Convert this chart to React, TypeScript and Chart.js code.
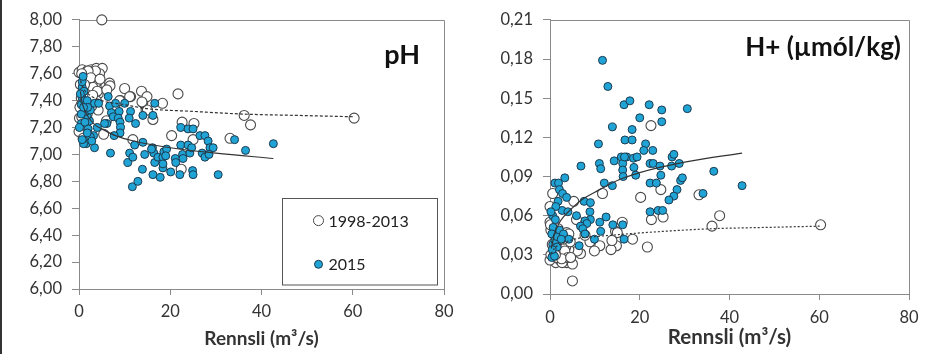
import React, { useEffect, useRef } from 'react';
import { Chart, registerables } from 'chart.js';

Chart.register(...registerables);

// ---------- axis ticks & labels ----------
const flowTicks = [0, 20, 40, 60, 80];
const phTicks = [6.0, 6.2, 6.4, 6.6, 6.8, 7.0, 7.2, 7.4, 7.6, 7.8, 8.0];
const hTicks = [0, 0.03, 0.06, 0.09, 0.12, 0.15, 0.18, 0.21];
const xTitle = 'Rennsli (m³/s)';
const legendLabels = ['1998-2013', '2015'];
const phTitle = 'pH';
const hTitle = 'H+ (µmól/kg)';

// ---------- pH panel: 1998-2013 ----------
const flowOldPh = [5.0, 0.0, 0.7, 1.8, 2.7, 3.8, 5.1, 1.2, 2.3, 3.9, 3.4, 4.2, 3.8, 4.2, 2.5, 1.5, 0.5, 0.1, 0.0, 0.5, 0.9, 1.8, 3.3, 2.2, 5.9, 6.7, 5.4, 6.0, 10.0, 11.3, 13.7, 14.0, 14.9, 14.7, 16.2, 18.3, 21.7, 9.1, 7.8, 11.8, 22.6, 25.2, 20.3, 25.0, 22.4, 33.1, 36.2, 37.6, 60.3, 0.3, 1.0, 2.0, 3.0, 4.5, 1.5, 0.2, 2.8, 3.6, 4.0, 0.6, 2.0, 3.0, 15.0, 6.8, 6.1, 13.8, 11.1, 8.9, 0.6, 2.6, 1.2, 4.6];
const phOld = [8.00, 7.61, 7.63, 7.62, 7.63, 7.64, 7.64, 7.58, 7.54, 7.54, 7.48, 7.45, 7.40, 7.33, 7.42, 7.48, 7.42, 7.27, 7.17, 7.37, 7.12, 7.30, 7.58, 7.59, 7.51, 7.53, 7.15, 7.25, 7.49, 7.43, 7.47, 7.39, 7.43, 7.33, 7.26, 7.38, 7.45, 7.40, 7.35, 7.11, 7.24, 7.23, 7.14, 7.11, 6.89, 7.12, 7.29, 7.22, 7.27, 7.52, 7.50, 7.45, 7.50, 7.60, 7.55, 7.35, 7.36, 7.62, 7.47, 7.28, 7.62, 7.44, 7.33, 7.51, 7.48, 7.39, 7.43, 7.40, 7.60, 7.57, 7.52, 7.56];

// ---------- pH panel: 2015 ----------
const flow2015Ph = [6.4, 6.7, 8.0, 10.0, 11.3, 16.6, 14.0, 16.2, 7.1, 7.5, 8.8, 8.6, 9.0, 9.1, 9.0, 7.7, 6.1, 5.6, 12.4, 11.0, 6.9, 4.0, 3.4, 3.2, 2.5, 2.0, 1.6, 1.0, 0.7, 2.3, 1.8, 1.5, 2.5, 3.4, 4.3, 0.5, 0.5, 0.5, 0.7, 0.7, 0.7, 0.9, 1.1, 1.2, 1.8, 1.8, 1.9, 12.2, 14.0, 11.1, 10.7, 14.4, 13.9, 16.1, 16.4, 16.6, 16.2, 17.3, 17.8, 18.4, 18.4, 18.6, 19.2, 20.1, 21.1, 21.2, 22.1, 22.3, 22.3, 22.7, 22.8, 23.9, 25.0, 23.9, 24.3, 24.7, 24.9, 25.0, 26.5, 27.6, 27.0, 27.6, 28.3, 28.7, 29.4, 28.5, 30.5, 34.1, 36.5, 42.6, 11.7, 12.9, 0.1, 1.3, 2.8, 0.3, 1.0, 19.0, 15.9, 18.4, 11.8];
const ph2015 = [7.43, 7.36, 7.38, 7.38, 7.32, 7.38, 7.29, 7.29, 7.31, 7.28, 7.32, 7.27, 7.24, 7.20, 7.16, 7.14, 7.23, 7.23, 7.23, 7.27, 7.01, 7.20, 7.05, 7.14, 7.13, 7.19, 7.08, 7.08, 7.11, 7.25, 7.29, 7.32, 7.33, 7.38, 7.38, 7.23, 7.30, 7.37, 7.42, 7.50, 7.54, 7.58, 7.47, 7.40, 7.40, 7.16, 7.35, 7.07, 7.09, 7.01, 6.94, 7.00, 6.89, 7.05, 7.01, 6.94, 6.85, 6.98, 6.83, 6.98, 6.90, 7.02, 7.04, 6.87, 6.97, 6.94, 6.85, 7.20, 7.07, 7.00, 6.97, 7.19, 7.19, 7.07, 7.01, 7.05, 6.88, 6.85, 7.14, 7.14, 7.01, 6.98, 7.10, 7.05, 7.05, 7.00, 6.85, 7.11, 7.03, 7.08, 6.76, 6.80, 7.20, 7.24, 7.10, 7.45, 7.35, 6.99, 7.04, 6.93, 6.98];

// ---------- pH trend lines ----------
const trendOldPhX = [0.3, 1, 2, 5, 10, 15, 25, 36, 48, 60.3];
const trendOldPhY = [7.55, 7.49, 7.45, 7.40, 7.37, 7.34, 7.32, 7.30, 7.29, 7.28];
const trend2015PhX = [0.3, 0.6, 1, 2, 3.5, 5, 8, 12, 20, 30, 42.6];
const trend2015PhY = [7.47, 7.40, 7.35, 7.28, 7.22, 7.19, 7.14, 7.10, 7.05, 7.01, 6.97];

// ---------- H+ panel: 1998-2013 ----------
const flowOldH = [22.5, 11.7, 20.2, 24.7, 33.2, 22.6, 25.2, 37.8, 36.1, 60.3, 16.1, 14.6, 15.0, 18.4, 21.7, 14.8, 13.6, 13.8, 11.1, 9.9, 8.9, 7.8, 6.8, 6.1, 5.0, 5.3, 5.9, 0.6, 0.0, 0.0, 0.2, 1.3, 2.4, 3.7, 5.0, 3.5, 4.2, 3.5, 3.7, 0.0, 1.8, 4.5, 3.0, 0.1, 1.8, 4.2, 0.5, 2.2, 2.7, 3.3, 4.0, 1.0, 2.8, 0.2, 1.5, 2.6, 1.2, 4.6];
const hOld = [0.129, 0.077, 0.074, 0.080, 0.076, 0.057, 0.059, 0.060, 0.052, 0.053, 0.055, 0.048, 0.047, 0.042, 0.036, 0.037, 0.034, 0.041, 0.037, 0.033, 0.040, 0.045, 0.031, 0.033, 0.010, 0.071, 0.057, 0.077, 0.067, 0.055, 0.049, 0.024, 0.027, 0.024, 0.023, 0.029, 0.034, 0.036, 0.047, 0.026, 0.031, 0.040, 0.042, 0.053, 0.050, 0.046, 0.038, 0.026, 0.024, 0.033, 0.028, 0.032, 0.044, 0.030, 0.028, 0.027, 0.030, 0.028];

// ---------- H+ panel: 2015 ----------
const flow2015H = [11.7, 12.9, 16.5, 17.8, 22.1, 24.9, 30.6, 20.0, 24.9, 18.3, 13.9, 10.8, 16.7, 18.3, 21.3, 20.9, 22.9, 11.0, 11.3, 14.3, 15.9, 17.1, 16.2, 18.6, 18.7, 19.1, 22.3, 23.0, 24.5, 24.7, 27.2, 27.6, 28.8, 27.1, 29.1, 29.5, 28.3, 27.6, 26.5, 16.2, 16.3, 6.9, 12.1, 13.9, 22.3, 23.7, 36.5, 42.8, 34.1, 22.3, 24.1, 25.1, 3.3, 1.1, 1.9, 2.1, 2.8, 3.7, 2.7, 4.0, 1.8, 1.3, 0.6, 0.7, 7.6, 9.0, 8.9, 9.0, 7.8, 8.2, 6.8, 7.3, 7.8, 5.9, 11.1, 12.5, 11.3, 9.9, 14.0, 16.2, 16.5, 6.5, 0.4, 0.6, 0.7, 1.1, 1.6, 2.1, 3.0, 4.2, 1.6, 0.4, 1.0, 0.5, 2.5, 1.2, 0.2, 16.6, 19.4];
const h2015 = [0.179, 0.159, 0.145, 0.148, 0.145, 0.141, 0.142, 0.135, 0.132, 0.126, 0.128, 0.115, 0.118, 0.118, 0.115, 0.110, 0.110, 0.100, 0.096, 0.102, 0.105, 0.105, 0.100, 0.104, 0.097, 0.091, 0.100, 0.100, 0.098, 0.091, 0.105, 0.107, 0.100, 0.098, 0.087, 0.089, 0.080, 0.075, 0.072, 0.095, 0.090, 0.098, 0.085, 0.083, 0.085, 0.085, 0.094, 0.083, 0.077, 0.063, 0.064, 0.064, 0.089, 0.085, 0.085, 0.080, 0.077, 0.074, 0.064, 0.063, 0.071, 0.067, 0.060, 0.051, 0.071, 0.070, 0.063, 0.057, 0.056, 0.054, 0.052, 0.050, 0.046, 0.060, 0.055, 0.059, 0.048, 0.042, 0.053, 0.053, 0.042, 0.037, 0.046, 0.038, 0.030, 0.041, 0.044, 0.049, 0.046, 0.042, 0.036, 0.028, 0.029, 0.034, 0.042, 0.057, 0.063, 0.105, 0.105];

// ---------- H+ trend lines ----------
const trendOldHX = [0.3, 1, 3, 6.7, 10, 21, 36, 48, 60.3];
const trendOldHY = [0.031, 0.035, 0.039, 0.043, 0.044, 0.047, 0.050, 0.051, 0.052];
const trend2015HX = [0.3, 1, 2, 3, 5, 7, 10, 15, 20, 30, 42.8];
const trend2015HY = [0.035, 0.046, 0.054, 0.059, 0.066, 0.072, 0.078, 0.087, 0.093, 0.101, 0.108];

const AXIS = '#8a8a8a';
const TEXT = '#333333';
const FONT = 'Lato, "Open Sans", sans-serif';
const BLUE_FILL = '#20a3d5';
const BLUE_EDGE = '#1c3a4e';
const OPEN_EDGE = '#4a4a4a';

const zip = (xs: number[], ys: number[]) => xs.map((x, i) => ({ x, y: ys[i] }));

type PanelOpts = {
  width: number;
  height: number;
  oldPts: { x: number; y: number }[];
  newPts: { x: number; y: number }[];
  oldTrend: { x: number; y: number }[];
  newTrend: { x: number; y: number }[];
  yMin: number;
  yMax: number;
  yTicks: number[];
  title: string;
  titleSize: number;
  titleDx: number;
  titleDy: number;
  legend: boolean;
  padTop: number;
  padRight: number;
  yAxisWidth: number;
  xAxisHeight: number;
  xTickPad: number;
  xTitleSize: number;
  xTitlePadBottom: number;
  dash: number[];
};

function decorPlugin(o: PanelOpts) {
  return {
    id: 'decor',
    beforeDatasetsDraw(chart: any) {
      const { ctx, chartArea: a } = chart;
      ctx.save();
      ctx.strokeStyle = AXIS;
      ctx.lineWidth = 1;
      ctx.beginPath();
      ctx.moveTo(a.left, Math.round(a.top) + 0.5);
      ctx.lineTo(Math.round(a.right) + 0.5, Math.round(a.top) + 0.5);
      ctx.lineTo(Math.round(a.right) + 0.5, a.bottom);
      ctx.stroke();
      ctx.restore();
    },
    afterDraw(chart: any) {
      const { ctx, chartArea: a } = chart;
      ctx.save();
      ctx.fillStyle = '#111';
      ctx.font = `bold ${o.titleSize}px ${FONT}`;
      ctx.textAlign = 'right';
      ctx.textBaseline = 'alphabetic';
      ctx.fillText(o.title, a.right - o.titleDx, a.top + o.titleDy);
      if (o.legend) {
        const bx = Math.round(a.right - 162) + 0.5;
        const by = Math.round(a.top + 178) + 0.5;
        const bw = 155;
        const bh = Math.round(a.bottom - 5 - by) + 0.5;
        ctx.fillStyle = '#fff';
        ctx.fillRect(bx, by, bw, bh);
        ctx.strokeStyle = '#555';
        ctx.lineWidth = 1;
        ctx.strokeRect(bx, by, bw, bh);
        const mx = bx + 36;
        const rows = [a.top + 200.7, a.top + 244.4];
        ctx.beginPath();
        ctx.arc(mx, rows[0], 5, 0, Math.PI * 2);
        ctx.fillStyle = '#fff';
        ctx.fill();
        ctx.strokeStyle = OPEN_EDGE;
        ctx.stroke();
        ctx.beginPath();
        ctx.arc(mx, rows[1], 4, 0, Math.PI * 2);
        ctx.fillStyle = BLUE_FILL;
        ctx.fill();
        ctx.strokeStyle = BLUE_EDGE;
        ctx.stroke();
        ctx.fillStyle = '#222';
        ctx.font = `16px ${FONT}`;
        ctx.textAlign = 'left';
        ctx.textBaseline = 'middle';
        ctx.fillText(legendLabels[0], bx + 46, rows[0] + 1);
        ctx.fillText(legendLabels[1], bx + 46, rows[1] + 1);
      }
      ctx.restore();
    },
  };
}

function makeConfig(o: PanelOpts): any {
  return {
    type: 'scatter',
    data: {
      datasets: [
        {
          label: 'trend2015',
          data: o.newTrend,
          showLine: true,
          borderColor: '#333',
          borderWidth: 1.2,
          pointRadius: 0,
          cubicInterpolationMode: 'monotone',
          order: 0,
          clip: false,
        },
        {
          label: 'trendOld',
          data: o.oldTrend,
          showLine: true,
          borderColor: '#333',
          borderWidth: 1.2,
          borderDash: o.dash,
          pointRadius: 0,
          cubicInterpolationMode: 'monotone',
          order: 0,
          clip: false,
        },
        {
          label: legendLabels[1],
          data: o.newPts,
          backgroundColor: BLUE_FILL,
          borderColor: BLUE_EDGE,
          borderWidth: 1,
          pointRadius: 4,
          order: 1,
          clip: false,
        },
        {
          label: legendLabels[0],
          data: o.oldPts,
          backgroundColor: '#ffffff',
          borderColor: OPEN_EDGE,
          borderWidth: 1.1,
          pointRadius: 5,
          order: 2,
          clip: false,
        },
      ],
    },
    options: {
      responsive: false,
      animation: false,
      events: [],
      layout: { padding: { left: 0, top: o.padTop, right: o.padRight, bottom: 0 } },
      plugins: { legend: { display: false }, tooltip: { enabled: false }, title: { display: false } },
      scales: {
        x: {
          type: 'linear',
          min: 0,
          max: 80,
          afterBuildTicks: (s: any) => {
            s.ticks = flowTicks.map((v) => ({ value: v }));
          },
          afterFit: (s: any) => {
            s.height = o.xAxisHeight;
          },
          ticks: {
            color: TEXT,
            font: { family: FONT, size: 16.5 },
            padding: o.xTickPad,
            maxRotation: 0,
            autoSkip: false,
          },
          grid: { drawOnChartArea: false, drawTicks: true, tickLength: 6, color: AXIS },
          border: { display: true, color: AXIS, width: 1 },
          title: {
            display: true,
            text: xTitle,
            color: TEXT,
            font: { family: FONT, size: o.xTitleSize, weight: 'bold' },
            padding: { top: 0, bottom: o.xTitlePadBottom },
          },
        },
        y: {
          type: 'linear',
          min: o.yMin,
          max: o.yMax,
          afterBuildTicks: (s: any) => {
            s.ticks = o.yTicks.map((v) => ({ value: v }));
          },
          afterFit: (s: any) => {
            s.width = o.yAxisWidth;
          },
          ticks: {
            color: TEXT,
            font: { family: FONT, size: 16.5 },
            padding: 10,
            autoSkip: false,
            callback: (v: any) => Number(v).toFixed(2).replace('.', ','),
          },
          grid: { drawOnChartArea: false, drawTicks: true, tickLength: 7, color: AXIS },
          border: { display: true, color: AXIS, width: 1 },
        },
      },
    },
    plugins: [decorPlugin(o)],
  };
}

function Panel({ opts, left }: { opts: PanelOpts; left: number }) {
  const ref = useRef<HTMLCanvasElement | null>(null);
  useEffect(() => {
    if (!ref.current) return;
    const chart = new Chart(ref.current, makeConfig(opts));
    return () => chart.destroy();
  }, []);
  return (
    <canvas
      ref={ref}
      width={opts.width}
      height={opts.height}
      style={{ position: 'absolute', left, top: 0, width: opts.width, height: opts.height, display: 'block' }}
    />
  );
}

const leftOpts: PanelOpts = {
  width: 470,
  height: 354,
  oldPts: zip(flowOldPh, phOld),
  newPts: zip(flow2015Ph, ph2015),
  oldTrend: zip(trendOldPhX, trendOldPhY),
  newTrend: zip(trend2015PhX, trend2015PhY),
  yMin: 6,
  yMax: 8,
  yTicks: phTicks,
  title: phTitle,
  titleSize: 27,
  titleDx: 24,
  titleDy: 44,
  legend: true,
  padTop: 18,
  padRight: 26,
  yAxisWidth: 79,
  xAxisHeight: 65,
  xTickPad: 7,
  xTitleSize: 19,
  xTitlePadBottom: 4,
  dash: [3, 2],
};

const rightOpts: PanelOpts = {
  width: 475,
  height: 354,
  oldPts: zip(flowOldH, hOld),
  newPts: zip(flow2015H, h2015),
  oldTrend: zip(trendOldHX, trendOldHY),
  newTrend: zip(trend2015HX, trend2015HY),
  yMin: 0,
  yMax: 0.21,
  yTicks: hTicks,
  title: hTitle,
  titleSize: 26,
  titleDx: 8,
  titleDy: 36,
  legend: false,
  padTop: 19,
  padRight: 36,
  yAxisWidth: 80,
  xAxisHeight: 60,
  xTickPad: 8,
  xTitleSize: 20.5,
  xTitlePadBottom: 4,
  dash: [2, 2],
};

export default function App() {
  useEffect(() => {
    document.documentElement.style.overflow = 'hidden';
    document.body.style.overflow = 'hidden';
    document.body.style.margin = '0';
    document.body.style.background = '#fff';
  }, []);
  return (
    <div style={{ position: 'fixed', left: 0, top: 0, width: 945, height: 354, background: '#fff', overflow: 'hidden' }}>
      <Panel opts={leftOpts} left={0} />
      <Panel opts={rightOpts} left={470} />
      <div style={{ position: 'absolute', left: 0, top: 0, width: 2, height: 354, background: '#333' }} />
    </div>
  );
}
